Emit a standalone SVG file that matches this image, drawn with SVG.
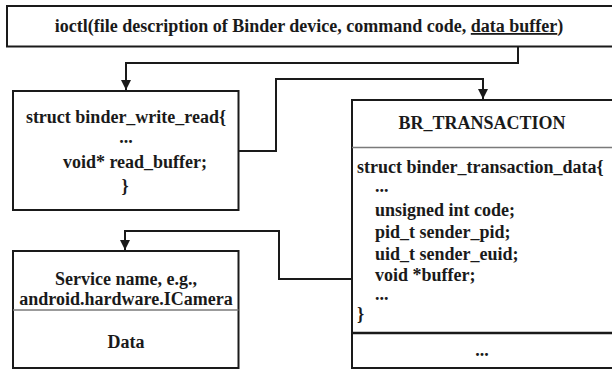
<svg xmlns="http://www.w3.org/2000/svg" width="612" height="370" viewBox="0 0 612 370">
<style>
text{font-family:"Liberation Serif","Times New Roman",serif;font-weight:bold;font-size:18px;fill:#1a1a1a}
.c{text-anchor:middle}
.box{fill:#fff;stroke:#1a1a1a;stroke-width:2}
.div{stroke:#7a7a7a;stroke-width:1.5}
.con{fill:none;stroke:#1a1a1a;stroke-width:2}
</style>
<defs>
<marker id="ah" viewBox="0 0 10 10" refX="10" refY="5" markerWidth="10" markerHeight="10" markerUnits="userSpaceOnUse" orient="auto">
<path d="M0,0 L10,5 L0,10 z" fill="#1a1a1a"/>
</marker>
</defs>
<rect width="612" height="370" fill="#fff"/>
<g id="ioctl">
<rect class="box" x="7" y="6" width="610" height="40.5"/>
<text class="c" x="309" y="32">ioctl(file description of Binder device, command code, <tspan text-decoration="underline">data buffer</tspan>)</text>
</g>
<g id="binder_write_read">
<rect class="box" x="13" y="91" width="225.5" height="119"/>
<text class="c" x="126" y="123">struct binder_write_read{</text>
<text class="c" x="126" y="143">...</text>
<text class="c" x="135" y="168">void* read_buffer;</text>
<text class="c" x="125" y="192">}</text>
</g>
<g id="br_transaction">
<rect class="box" x="352" y="100" width="270" height="268"/>
<line class="div" x1="352" y1="147.5" x2="612" y2="147.5"/>
<line x1="352" y1="333" x2="612" y2="333" stroke="#1a1a1a" stroke-width="2.5"/>
<text class="c" x="482" y="129">BR_TRANSACTION</text>
<text x="357" y="173">struct binder_transaction_data{</text>
<text x="375" y="192">...</text>
<text x="375" y="216">unsigned int code;</text>
<text x="375" y="238">pid_t sender_pid;</text>
<text x="375" y="260">uid_t sender_euid;</text>
<text x="375" y="281">void *buffer;</text>
<text x="375" y="300">...</text>
<text x="357" y="320">}</text>
<text class="c" x="482" y="356">...</text>
</g>
<g id="service">
<rect class="box" x="13" y="251" width="225.5" height="117"/>
<line class="div" x1="13" y1="310" x2="238.5" y2="310"/>
<text class="c" x="126" y="285">Service name, e.g.,</text>
<text class="c" x="126" y="305">android.hardware.ICamera</text>
<text class="c" x="126" y="348">Data</text>
</g>
<g id="connectors">
<path class="con" d="M518,47 V63 H126 V90" marker-end="url(#ah)"/>
<path class="con" d="M238.5,151 H276 V79 H483 V99" marker-end="url(#ah)"/>
<path class="con" d="M352,279 H279 V231 H125 V250" marker-end="url(#ah)"/>
</g>
</svg>
